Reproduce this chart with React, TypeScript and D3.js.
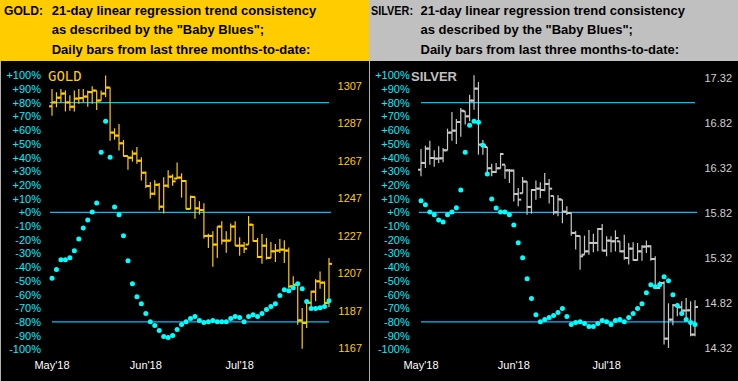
import React from "react";
import * as d3 from "d3";

// ---------- data ----------
const monthLabels = ["May'18", "Jun'18", "Jul'18"];
const monthIndex = [0, 21, 42];
const pctTicks = [100, 90, 80, 70, 60, 50, 40, 30, 20, 10, 0, -10, -20, -30, -40, -50, -60, -70, -80, -90, -100];
const refLines = [80, 0, -80];

const goldPriceTicks = [1307, 1287, 1267, 1247, 1227, 1207, 1187, 1167];
const silverPriceTicks = [17.32, 16.82, 16.32, 15.82, 15.32, 14.82, 14.32];

const goldOpen = [1296, 1298.1, 1300.6, 1302.8, 1298.1, 1295.8, 1300.1, 1300.4, 1301.2, 1303.6, 1304.4, 1299.1, 1302.8, 1306.0, 1282.0, 1280.4, 1276.3, 1269.5, 1268.6, 1270.8, 1267.0, 1260.6, 1253.5, 1249.4, 1254.2, 1242.5, 1253.7, 1258.5, 1257.5, 1258.0, 1256.2, 1241.3, 1247.7, 1241.6, 1240.7, 1226.9, 1226.9, 1222.3, 1231.9, 1224.4, 1224.4, 1231.9, 1221.7, 1221.7, 1222.3, 1232.9, 1224.2, 1215.7, 1221.7, 1215.2, 1218.7, 1219.1, 1219.6, 1219.1, 1200.0, 1200.9, 1181.9, 1180.5, 1191.3, 1197.2, 1202.7, 1202.0, 1191.2];
const goldHigh = [1305.2, 1303.5, 1305.2, 1304.5, 1301.9, 1304.5, 1305.2, 1305.2, 1304.5, 1306.7, 1304.5, 1304.5, 1312.5, 1306.0, 1284.3, 1286.6, 1278.1, 1269.5, 1272.5, 1274.3, 1268.8, 1261.3, 1255.7, 1256.6, 1255.1, 1258.2, 1261.9, 1259.8, 1266.1, 1260.3, 1256.6, 1248.4, 1247.8, 1245.4, 1244.3, 1228.1, 1229.4, 1232.0, 1234.7, 1229.4, 1233.6, 1234.7, 1226.2, 1223.7, 1237.5, 1233.3, 1225.8, 1227.9, 1225.8, 1223.7, 1222.6, 1225.3, 1224.6, 1220.8, 1205.4, 1201.5, 1188.5, 1192.1, 1197.7, 1203.9, 1208.0, 1202.7, 1215.2];
const goldLow = [1291.0, 1295.5, 1298.1, 1293.3, 1293.7, 1293.2, 1297.4, 1298.1, 1295.8, 1297.4, 1294.0, 1299.1, 1300.8, 1277.7, 1278.2, 1272.4, 1269.2, 1262.2, 1266.5, 1265.4, 1256.4, 1252.5, 1246.8, 1248.6, 1240.6, 1238.8, 1252.5, 1253.7, 1257.3, 1247.3, 1241.1, 1241.3, 1236.1, 1238.3, 1225.5, 1220.5, 1210.5, 1215.2, 1222.3, 1218.0, 1224.4, 1221.5, 1216.4, 1217.8, 1222.3, 1224.0, 1215.2, 1212.1, 1214.3, 1215.2, 1213.0, 1217.8, 1212.5, 1199.2, 1198.8, 1179.6, 1166.8, 1177.8, 1188.1, 1192.1, 1198.8, 1189.4, 1189.0];
const goldClose = [1298.1, 1300.6, 1302.8, 1298.1, 1295.8, 1300.1, 1300.4, 1301.2, 1303.6, 1304.4, 1299.1, 1302.8, 1306.0, 1282.0, 1280.4, 1276.3, 1269.5, 1268.6, 1270.8, 1267.0, 1260.6, 1253.5, 1249.4, 1254.2, 1242.5, 1253.7, 1258.5, 1256.0, 1258.0, 1256.2, 1241.3, 1247.7, 1241.6, 1240.7, 1226.9, 1226.9, 1222.3, 1231.9, 1224.4, 1224.4, 1231.9, 1221.7, 1221.7, 1220.1, 1232.9, 1224.2, 1215.7, 1221.7, 1215.2, 1218.7, 1219.1, 1219.6, 1219.1, 1200.0, 1200.9, 1181.9, 1180.5, 1191.3, 1197.2, 1202.7, 1202.0, 1191.2, 1212.0];
const goldTrend = [-48.2, -41.7, -34.7, -34.7, -33.2, -28.1, -19.4, -11.4, -5.6, 0.2, 6.8, 43.9, 66.4, 40.2, 3.9, -1.7, -17.2, -35.4, -52.1, -61.6, -66.7, -73.9, -79.8, -82.7, -86.3, -90.7, -91.4, -89.9, -85.6, -81.9, -79.8, -77.6, -76.1, -79.0, -80.5, -79.8, -79.0, -79.8, -79.8, -79.8, -77.6, -76.1, -76.8, -79.8, -76.1, -74.7, -76.1, -73.9, -71.0, -68.8, -66.7, -60.8, -56.5, -57.2, -55.0, -52.1, -55.8, -65.2, -70.3, -70.3, -69.6, -68.8, -64.5];

const silverOpen = [16.30, 16.375, 16.534, 16.43, 16.423, 16.426, 16.515, 16.711, 16.733, 16.829, 16.948, 16.892, 17.066, 17.199, 16.578, 16.552, 16.316, 16.275, 16.316, 16.356, 16.293, 16.29, 16.031, 16.039, 16.168, 15.887, 16.075, 16.09, 16.075, 16.142, 16.009, 15.828, 15.968, 15.835, 15.82, 15.599, 15.565, 15.358, 15.395, 15.488, 15.488, 15.643, 15.403, 15.514, 15.506, 15.506, 15.395, 15.321, 15.425, 15.299, 15.395, 15.447, 15.451, 15.31, 14.989, 15.044, 14.427, 14.638, 14.797, 14.775, 14.738, 14.741, 14.472];
const silverHigh = [16.53, 16.567, 16.622, 16.515, 16.559, 16.54, 16.755, 16.94, 16.862, 16.984, 16.948, 17.132, 17.347, 17.273, 16.63, 16.552, 16.367, 16.375, 16.486, 16.356, 16.308, 16.301, 16.098, 16.219, 16.171, 16.086, 16.179, 16.16, 16.264, 16.197, 16.009, 16.016, 15.968, 15.894, 15.82, 15.621, 15.569, 15.569, 15.632, 15.591, 15.654, 15.698, 15.562, 15.562, 15.628, 15.506, 15.58, 15.488, 15.495, 15.488, 15.462, 15.514, 15.462, 15.34, 15.063, 15.063, 14.819, 14.811, 14.819, 14.841, 14.878, 14.841, 14.852];
const silverLow = [16.227, 16.319, 16.356, 16.334, 16.375, 16.382, 16.515, 16.621, 16.584, 16.665, 16.80, 16.837, 16.966, 16.467, 16.467, 16.254, 16.227, 16.264, 16.312, 16.20, 16.153, 15.948, 15.894, 16.039, 15.80, 15.813, 15.968, 15.987, 16.061, 15.924, 15.80, 15.783, 15.706, 15.798, 15.569, 15.414, 15.192, 15.358, 15.358, 15.384, 15.395, 15.395, 15.34, 15.384, 15.395, 15.384, 15.303, 15.248, 15.292, 15.292, 15.292, 15.377, 15.292, 14.989, 14.978, 14.361, 14.324, 14.575, 14.675, 14.693, 14.619, 14.453, 14.453];
const silverClose = [16.375, 16.534, 16.43, 16.423, 16.426, 16.515, 16.711, 16.733, 16.829, 16.955, 16.892, 17.066, 17.199, 16.578, 16.571, 16.316, 16.275, 16.316, 16.474, 16.293, 16.29, 16.031, 15.968, 16.168, 15.887, 16.075, 16.09, 16.075, 16.142, 16.09, 15.828, 15.972, 15.835, 15.82, 15.599, 15.565, 15.34, 15.395, 15.488, 15.488, 15.643, 15.403, 15.514, 15.506, 15.543, 15.395, 15.321, 15.425, 15.299, 15.395, 15.447, 15.451, 15.31, 14.989, 15.044, 14.427, 14.638, 14.797, 14.775, 14.738, 14.741, 14.472, 14.778];
const silverTrend = [8.5, 5.6, 0.2, -1.7, -5.6, -7.0, -1.7, 0.2, 3.4, 16.2, 43.9, 63.5, 66.4, 65.7, 49.0, 27.9, 9.7, 3.2, 0.2, 0.2, -1.7, -9.2, -22.3, -33.2, -48.5, -63.0, -74.7, -79.8, -78.3, -76.8, -75.4, -73.2, -70.3, -76.1, -81.9, -80.5, -79.8, -81.2, -83.4, -83.4, -81.2, -79.0, -79.8, -81.9, -79.0, -78.3, -79.8, -76.8, -73.9, -70.3, -66.7, -58.7, -52.8, -54.3, -52.8, -47.0, -49.9, -60.1, -68.1, -73.9, -78.3, -80.5, -81.9];

// ---------- styling ----------
const W = 738;
const H = 381;
const HEADER_H = 61;
const LINE_COLOR = "#00BFFF";
const DOT_COLOR = "#00FFFF";
const PCT_COLOR = "#00F0FF";
const SANS = "'Liberation Sans', Arial, sans-serif";

type PanelProps = {
  x0: number;
  w: number;
  headerColor: string;
  titleWord: string;
  titleX: number;
  titleLen: number;
  textX: number;
  name: string;
  nameFont: any;
  nameX: number;
  barColor: string;
  labelColor: string;
  open: number[];
  high: number[];
  low: number[];
  close: number[];
  trend: number[];
  priceDomain: [number, number];
  priceRange: [number, number];
  priceTicks: number[];
  priceFmt: (v: number) => string;
  priceLabelX: number;
  pctLabelX: number;
  xRange: [number, number];
  lineExt: [number, number][];
  borderX: number;
};

function Panel(p: PanelProps) {
  const x = d3.scaleLinear().domain([0, p.close.length - 1]).range(p.xRange);
  const yPct = d3.scaleLinear().domain([-100, 100]).range([349.3, 75.3]);
  const yP = d3.scaleLinear().domain(p.priceDomain).range(p.priceRange);
  const lines = [
    "21-day linear regression trend consistency",
    'as described by the "Baby Blues";',
    "Daily bars from last three months-to-date:",
  ];
  const baselines = [14.5, 34.3, 54];
  return (
    <g>
      <rect x={p.x0} y={0} width={p.w} height={HEADER_H} fill={p.headerColor} />
      <rect x={p.x0} y={HEADER_H} width={p.w} height={H - HEADER_H} fill="#000" />
      <line x1={p.borderX} x2={p.borderX} y1={HEADER_H} y2={H} stroke="#B0B0B0" strokeWidth={1} />
      <text
        x={p.x0 + p.titleX}
        y={baselines[0]}
        fontFamily={SANS}
        fontWeight="bold"
        fontSize={13}
        fill="#000"
        textLength={p.titleLen}
        lengthAdjust="spacingAndGlyphs"
      >
        {p.titleWord}
      </text>
      {lines.map((t, i) => (
        <text key={i} x={p.x0 + p.textX} y={baselines[i]} fontFamily={SANS} fontWeight="bold" fontSize={13} fill="#000">
          {t}
        </text>
      ))}
      {refLines.map((v, i) => (
        <line key={v} x1={p.lineExt[i][0]} x2={p.lineExt[i][1]} y1={yPct(v)} y2={yPct(v)} stroke={LINE_COLOR} strokeWidth={1.3} />
      ))}
      {pctTicks.map((v) => (
        <text key={v} x={p.pctLabelX} y={yPct(v) + 4} textAnchor="end" fontFamily={SANS} fontSize={11} fill={PCT_COLOR}>
          {(v >= 0 ? "+" : "") + v + "%"}
        </text>
      ))}
      {p.priceTicks.map((v) => (
        <text key={v} x={p.priceLabelX} y={yP(v) + 4} textAnchor="end" fontFamily={SANS} fontSize={11} fill={p.labelColor}>
          {p.priceFmt(v)}
        </text>
      ))}
      {monthLabels.map((m, i) => (
        <text key={m} x={x(monthIndex[i])} y={369} textAnchor="middle" fontFamily={SANS} fontSize={11} fill="#fff">
          {m}
        </text>
      ))}
      <text x={p.nameX} y={80.5} {...p.nameFont}>
        {p.name}
      </text>
      {p.close.map((c, i) => {
        const cx = x(i);
        return (
          <g key={i} stroke={p.barColor}>
            <line x1={cx} x2={cx} y1={yP(p.high[i])} y2={yP(p.low[i])} strokeWidth={1.2} />
            <line x1={cx - 3} x2={cx} y1={yP(p.open[i])} y2={yP(p.open[i])} strokeWidth={2} />
            <line x1={cx} x2={cx + 3} y1={yP(c)} y2={yP(c)} strokeWidth={2} />
          </g>
        );
      })}
      {p.trend.map((t, i) => (
        <circle key={i} cx={x(i)} cy={yPct(t)} r={2.5} fill={DOT_COLOR} />
      ))}
    </g>
  );
}

export default function App() {
  return (
    <div style={{ position: "fixed", left: 0, top: 0 }}>
      <svg width={W} height={H} style={{ display: "block" }}>
        <rect x={0} y={0} width={W} height={H} fill="#000" />
        <Panel
          x0={0}
          w={369}
          headerColor="#FFCC00"
          titleWord="GOLD:"
          titleX={4}
          titleLen={39}
          textX={51.7}
          name="GOLD"
          nameFont={{ fontFamily: "'DejaVu Sans Mono', monospace", fontSize: 14, fill: "#FFCC00" }}
          nameX={48}
          barColor="#FFCC00"
          labelColor="#FFCC00"
          open={goldOpen}
          high={goldHigh}
          low={goldLow}
          close={goldClose}
          trend={goldTrend}
          priceDomain={[1167, 1307]}
          priceRange={[348.3, 85.7]}
          priceTicks={goldPriceTicks}
          priceFmt={(v) => String(v)}
          priceLabelX={362}
          pctLabelX={41}
          xRange={[52, 329]}
          lineExt={[[50, 329], [50, 331], [52, 329]]}
          borderX={0.5}
        />
        <Panel
          x0={369}
          w={369}
          headerColor="#C0C0C0"
          titleWord="SILVER:"
          titleX={2}
          titleLen={42}
          textX={51.5}
          name="SILVER"
          nameFont={{ fontFamily: SANS, fontWeight: "bold", fontSize: 13, fill: "#C0C0C0" }}
          nameX={411}
          barColor="#C8C8C8"
          labelColor="#D0D0D0"
          open={silverOpen}
          high={silverHigh}
          low={silverLow}
          close={silverClose}
          trend={silverTrend}
          priceDomain={[14.32, 17.32]}
          priceRange={[348.3, 77.7]}
          priceTicks={silverPriceTicks}
          priceFmt={(v) => v.toFixed(2)}
          priceLabelX={732}
          pctLabelX={409.7}
          xRange={[421, 695]}
          lineExt={[[421, 695], [419, 697], [421, 695]]}
          borderX={369.5}
        />
      </svg>
    </div>
  );
}
